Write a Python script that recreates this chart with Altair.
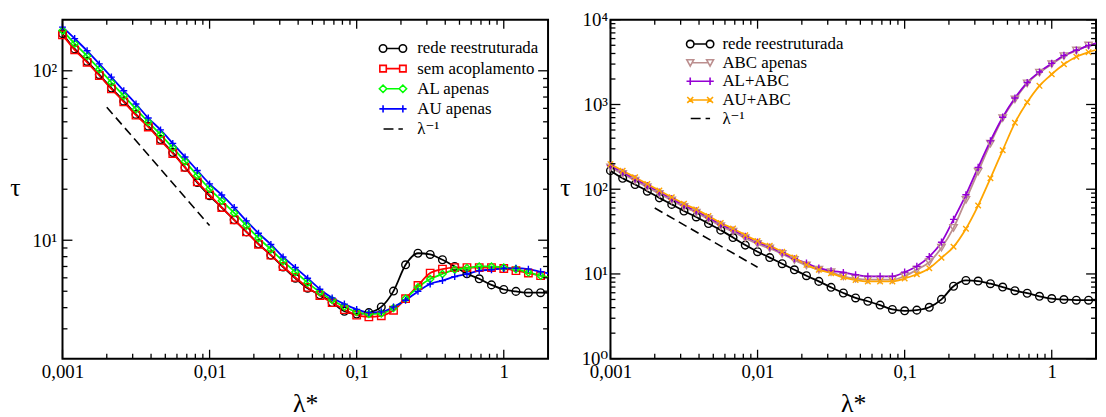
import altair as alt
import pandas as pd

# ---------------- data ----------------
LAMBDA = [0.001, 0.00121, 0.00147, 0.00178, 0.00215, 0.00261, 0.00316, 0.00383, 0.00464, 0.00562, 0.00681, 0.00825,
          0.01, 0.0121, 0.0147, 0.0178, 0.0215, 0.0261, 0.0316, 0.0383, 0.0464, 0.0562, 0.0681, 0.0825,
          0.1, 0.121, 0.147, 0.178, 0.215, 0.261, 0.316, 0.383, 0.464, 0.562, 0.681, 0.825,
          1.0, 1.21, 1.47, 1.78, 2.15]

REDE = [165.6, 134.6, 113.5, 94.8, 79.1, 66.2, 55.3, 47.1, 39.3, 32.9, 26.9, 21.9, 18.3, 15.6, 13.2, 11.2,
        9.53, 8.17, 6.95, 5.96, 5.21, 4.76, 4.29, 3.81, 3.67, 3.74, 4.04, 5.01, 7.16, 8.38, 8.24, 7.67,
        7.00, 6.34, 5.92, 5.45, 5.12, 4.99, 4.90, 4.90, 4.88]
SEM_ACOPL = [162.9, 133.0, 112.2, 93.8, 78.2, 65.5, 54.7, 46.6, 38.8, 32.5, 26.9, 22.1, 18.5, 15.6, 13.2, 11.2,
             9.46, 8.17, 7.00, 6.03, 5.27, 4.72, 4.28, 3.89, 3.61, 3.53, 3.58, 3.86, 4.52, 5.41, 6.40, 6.76,
             6.90, 6.90, 6.90, 6.90, 6.81, 6.61, 6.40, 6.18, 5.96]
AL_APENAS = [173.0, 144.5, 122.2, 102.1, 85.3, 71.1, 59.4, 49.9, 42.0, 35.1, 29.2, 24.1, 20.1, 17.1, 14.5, 12.2,
             10.3, 8.83, 7.52, 6.49, 5.62, 4.94, 4.44, 4.05, 3.77, 3.67, 3.70, 3.98, 4.52, 5.28, 5.90, 6.32,
             6.70, 6.85, 7.00, 7.00, 6.90, 6.75, 6.46, 6.18, 5.96]
AU_APENAS = [181.1, 154.9, 131.2, 109.9, 91.8, 76.2, 63.7, 52.6, 44.8, 37.3, 31.0, 25.8, 21.5, 18.5, 15.6, 13.0,
             11.0, 9.44, 7.96, 6.90, 5.97, 5.14, 4.57, 4.20, 3.91, 3.74, 3.78, 4.04, 4.42, 4.99, 5.52, 5.78,
             6.10, 6.32, 6.61, 6.70, 6.81, 6.84, 6.75, 6.52, 6.27]
ABC_APENAS = [181.1, 151.4, 126.5, 105.7, 88.3, 73.8, 61.7, 53.0, 44.3, 36.6, 31.5, 26.4, 22.6, 20.0, 17.2, 14.6,
              12.6, 11.2, 10.5, 9.35, 8.79, 8.55, 8.55, 8.55, 9.44, 11.2, 13.8, 20.4, 35.0, 75.0, 161, 345,
              689, 1148, 1778, 2377, 2992, 3724, 4335, 4966, 5433]
AL_ABC = [189.7, 158.5, 132.4, 110.7, 92.5, 77.3, 64.6, 55.5, 46.3, 38.4, 33.0, 27.7, 23.7, 20.8, 17.8, 15.1,
          13.4, 11.7, 10.9, 10.4, 9.79, 9.35, 9.35, 9.35, 10.5, 12.3, 16.0, 23.7, 44.0, 85.9, 181, 372,
          708, 1191, 1816, 2421, 3055, 3793, 4375, 4966, 5433]
AU_ABC = [197.7, 165.6, 138.0, 115.3, 96.4, 80.5, 67.3, 57.8, 48.3, 40.0, 34.4, 28.7, 24.4, 21.5, 18.3, 15.6,
          12.8, 11.2, 10.2, 9.12, 8.47, 8.17, 8.17, 8.17, 8.85, 9.91, 11.7, 15.5, 20.9, 34.2, 64.1, 134.6,
          288, 608, 1062, 1660, 2275, 2979, 3664, 4150, 4571]

DASH_LAMBDA = [0.002, 0.01]
DASH_TAU_LEFT = [61.0, 12.2]
DASH_TAU_RIGHT = [60.0, 12.0]

NAMES_LEFT = ["rede reestruturada", "sem acoplamento", "AL apenas", "AU apenas"]
NAMES_RIGHT = ["rede reestruturada", "ABC apenas", "AL+ABC", "AU+ABC"]
LAM_INV = "λ⁻¹"

X_TICKS = [0.001, 0.01, 0.1, 1]
X_MINOR = [0.002, 0.003, 0.004, 0.005, 0.006, 0.007, 0.008, 0.009,
           0.02, 0.03, 0.04, 0.05, 0.06, 0.07, 0.08, 0.09,
           0.2, 0.3, 0.4, 0.5, 0.6, 0.7, 0.8, 0.9]
Y_TICKS_LEFT = [10, 100]
Y_LABELS_LEFT = ["10¹", "10²"]
Y_MINOR_LEFT = [3, 4, 5, 6, 7, 8, 9, 20, 30, 40, 50, 60, 70, 80, 90]
Y_TICKS_RIGHT = [1, 10, 100, 1000, 10000]
Y_LABELS_RIGHT = ["10⁰", "10¹", "10²", "10³", "10⁴"]
Y_MINOR_RIGHT = [2, 3, 4, 5, 6, 7, 8, 9, 20, 30, 40, 50, 60, 70, 80, 90,
                 200, 300, 400, 500, 600, 700, 800, 900, 2000, 3000, 4000, 5000, 6000, 7000, 8000, 9000]

# ---------------- styles ----------------
W, H = 490, 342
FONT = "'Liberation Serif', 'Times New Roman', Times, 'DejaVu Serif', serif"

PLUS = "M-1,0L1,0M0,-1L0,1"
XMARK = "M-0.8,-0.8L0.8,0.8M-0.8,0.8L0.8,-0.8"

LEG_CIRCLE = ("M-1.25,0L1.25,0M-1.25,0A0.75,0.75 0 1,1 -2.75,0A0.75,0.75 0 1,1 -1.25,0"
              "M2.75,0A0.75,0.75 0 1,1 1.25,0A0.75,0.75 0 1,1 2.75,0")
LEG_SQUARE = ("M-1.35,0L1.35,0M-2.65,-0.65L-1.35,-0.65L-1.35,0.65L-2.65,0.65Z"
              "M1.35,-0.65L2.65,-0.65L2.65,0.65L1.35,0.65Z")
LEG_DIAMOND = ("M-1.25,0L1.25,0M-2.75,0L-2,-0.75L-1.25,0L-2,0.75Z"
               "M1.25,0L2,-0.75L2.75,0L2,0.75Z")
LEG_PLUS = "M-2.75,0L2.75,0M-2,-0.75L-2,0.75M2,-0.75L2,0.75"
LEG_TRI = "M-1.6,0L1.6,0M-2.7,-0.6L-1.3,-0.6L-2,0.7ZM1.3,-0.6L2.7,-0.6L2,0.7Z"
LEG_X = "M-2,0L2,0M-2.6,-0.6L-1.4,0.6M-2.6,0.6L-1.4,-0.6M1.4,-0.6L2.6,0.6M1.4,0.6L2.6,-0.6"
LEG_DASH = "M-1.9,0L0.1,0M1.1,0L2,0"


def label_expr(vals, labs):
    expr = "''"
    for v, lab in reversed(list(zip(vals, labs))):
        expr = f"datum.value == {v} ? '{lab}' : ({expr})"
    return expr


def panel(names, series, colors, shapes, sizes, leg_shapes, dash_tau, y_domain,
          y_ticks, y_labels, y_minor, leg_x, leg_y, leg_offset, leg_rowpad,
          y_title_x, y_label_pad):
    rows = []
    for name, vals in zip(names, series):
        for i, (lx, tv) in enumerate(zip(LAMBDA, vals)):
            rows.append({"lam": lx, "tau": tv, "serie": name, "k": i})
    df = pd.DataFrame(rows)
    dom = names + [LAM_INV]
    cols = colors + ["black"]

    xs = alt.Scale(type="log", domain=[0.001, 2], nice=False)
    ys = alt.Scale(type="log", domain=y_domain, nice=False)
    x_axis = alt.Axis(values=X_TICKS, labelExpr="replace(toString(datum.value), '.', ',')",
                      ticks=False, tickSize=0, domain=False, grid=False, labelPadding=4,
                      labelOverlap=False, labelFlush=False, labelBound=False,
                      title="λ*", titleX=245, titleY=53,
                      titleAlign="center", titleBaseline="alphabetic")
    y_axis = alt.Axis(values=y_ticks, labelExpr=label_expr(y_ticks, y_labels),
                      ticks=False, tickSize=0, domain=False, grid=False,
                      labelPadding=y_label_pad, labelOverlap=False, labelFlush=False,
                      labelBound=False,
                      title="τ", titleAngle=0, titleX=y_title_x, titleY=177,
                      titleAlign="center", titleBaseline="alphabetic")

    def X():
        return alt.X("lam:Q", scale=xs, axis=x_axis)

    def Y():
        return alt.Y("tau:Q", scale=ys, axis=y_axis)

    color_nl = alt.Color("serie:N", scale=alt.Scale(domain=dom, range=cols), legend=None)

    lines = alt.Chart(df).mark_line(interpolate="monotone", strokeWidth=1.8, clip=True).encode(
        X(), Y(), color=color_nl, order="k:Q")
    dash_df = pd.DataFrame({"lam": DASH_LAMBDA, "tau": dash_tau})
    dash = alt.Chart(dash_df).mark_line(strokeDash=[9, 5], strokeWidth=1.6, color="black").encode(X(), Y())
    pts = alt.Chart(df).transform_filter("datum.k <= 39").mark_point(
        filled=False, strokeWidth=1.4, opacity=1).encode(
        X(), Y(), color=color_nl,
        shape=alt.Shape("serie:N", scale=alt.Scale(domain=dom, range=shapes + ["circle"]), legend=None),
        size=alt.Size("serie:N", scale=alt.Scale(domain=dom, range=sizes + [10]), legend=None))

    ticks = []
    for vals, L in ((X_TICKS, 9), (X_MINOR, 5)):
        d = pd.DataFrame({"lam": vals})
        ticks.append(alt.Chart(d).mark_rule(color="black", strokeWidth=1.3).encode(
            X(), y=alt.value(H), y2=alt.value(H - L)))
        ticks.append(alt.Chart(d).mark_rule(color="black", strokeWidth=1.3).encode(
            X(), y=alt.value(0), y2=alt.value(L)))
    for vals, L in ((y_ticks, 10), (y_minor, 5)):
        d = pd.DataFrame({"tau": vals})
        ticks.append(alt.Chart(d).mark_rule(color="black", strokeWidth=1.3).encode(
            Y(), x=alt.value(0), x2=alt.value(L)))
        ticks.append(alt.Chart(d).mark_rule(color="black", strokeWidth=1.3).encode(
            Y(), x=alt.value(W), x2=alt.value(W - L)))

    leg = alt.Legend(orient="none", legendX=leg_x, legendY=leg_y, title=None,
                     labelFont=FONT, labelFontSize=17, labelColor="black",
                     labelOffset=leg_offset, rowPadding=leg_rowpad, symbolSize=100,
                     symbolStrokeWidth=1.6, padding=0, labelLimit=300)
    legend_layer = alt.Chart(df).transform_filter("datum.k < 0").mark_point(
        filled=False, strokeWidth=1.6, opacity=1).encode(
        color=alt.Color("serie:N", scale=alt.Scale(domain=dom, range=cols), legend=leg),
        shape=alt.Shape("serie:N", scale=alt.Scale(domain=dom, range=leg_shapes), legend=leg))

    return alt.layer(lines, dash, pts, *ticks, legend_layer).resolve_scale(
        color="independent", shape="independent", size="independent").properties(width=W, height=H)


left = panel(NAMES_LEFT, [REDE, SEM_ACOPL, AL_APENAS, AU_APENAS],
             ["#000000", "#ff0000", "#00ff00", "#0000ff"],
             ["circle", "square", "diamond", PLUS], [60, 45, 55, 64],
             [LEG_CIRCLE, LEG_SQUARE, LEG_DIAMOND, LEG_PLUS, LEG_DASH],
             DASH_TAU_LEFT, [2, 200], Y_TICKS_LEFT, Y_LABELS_LEFT, Y_MINOR_LEFT,
             325, 20.5, 16, 2.3, -48, 6)

right = panel(NAMES_RIGHT, [REDE, ABC_APENAS, AL_ABC, AU_ABC],
              ["#000000", "#bc8f8f", "#9400d3", "#ffa500"],
              ["circle", "triangle-down", PLUS, XMARK], [60, 45, 64, 50],
              [LEG_CIRCLE, LEG_TRI, LEG_PLUS, LEG_X, LEG_DASH],
              DASH_TAU_RIGHT, [1, 10000], Y_TICKS_RIGHT, Y_LABELS_RIGHT, Y_MINOR_RIGHT,
              82, 16, 14, 0.8, -46, 3)

chart = alt.hconcat(left, right, spacing=63, bounds="flush").configure_view(
    stroke="black", strokeWidth=2).configure_axis(
    labelFont=FONT, titleFont=FONT, labelFontSize=19, titleFontSize=26,
    labelColor="black", titleColor="black", titleFontWeight="normal").configure_legend(
    labelFont=FONT).properties(padding=0)

chart.save("out.html", embed_options={"renderer": "svg", "actions": False})
